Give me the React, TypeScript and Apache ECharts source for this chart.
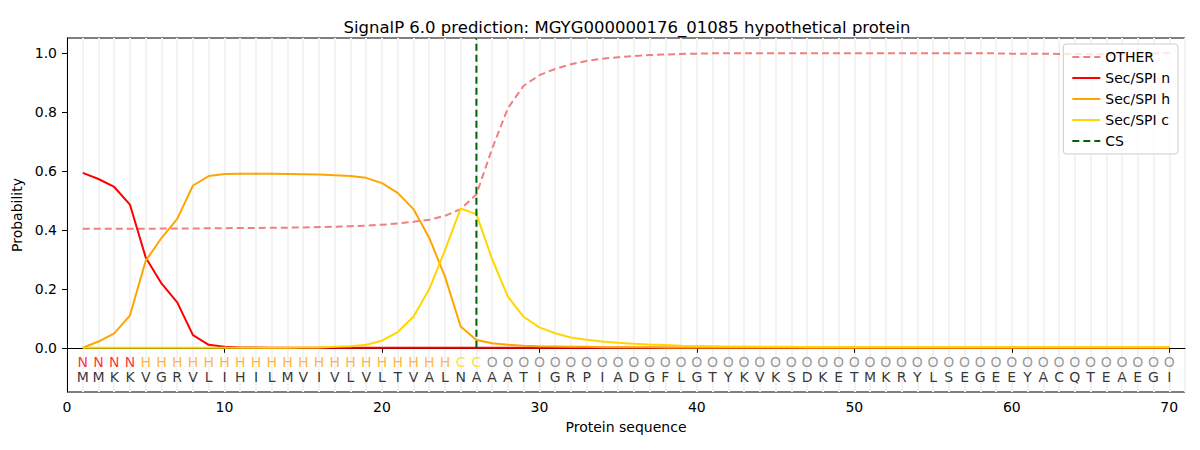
import React, { useEffect, useRef } from "react";
import * as echarts from "echarts";

const TITLE = "SignalP 6.0 prediction: MGYG000000176_01085 hypothetical protein";
const SEQUENCE = "MMKKVGRVLIHILMVIVLVLTVALNAAATIGRPIADGFLGTYKVKSDKETMKRYLSEGEEYACQTEAEGI".split("");
const REGIONS = ("NNNN" + "H".repeat(20) + "CC" + "O".repeat(44)).split("");
const CS_POS = 26;

const OTHER = [
  0.403, 0.403, 0.403, 0.403, 0.403, 0.404, 0.404, 0.404, 0.405, 0.405,
  0.406, 0.406, 0.407, 0.407, 0.408, 0.409, 0.410, 0.412, 0.414, 0.417,
  0.421, 0.427, 0.434, 0.447, 0.470, 0.520, 0.675, 0.812, 0.888, 0.924,
  0.945, 0.961, 0.972, 0.980, 0.985, 0.989, 0.992, 0.994, 0.996, 0.997,
  0.998, 0.998, 0.998, 0.998, 0.998, 0.998, 0.998, 0.998, 0.998, 0.998,
  0.998, 0.998, 0.998, 0.998, 0.998, 0.998, 0.998, 0.998, 0.998, 0.997,
  0.997, 0.997, 0.996, 0.996, 0.995, 0.995, 0.996, 0.997, 0.998, 0.999,
];
const SEC_N = [
  0.593, 0.572, 0.545, 0.485, 0.306, 0.218, 0.154, 0.043, 0.010, 0.003,
  0.001, 0.001, 0, 0, 0, 0, 0, 0, 0, 0,
  0, 0, 0, 0, 0, 0, 0, 0, 0, 0,
  0, 0, 0, 0, 0, 0, 0, 0, 0, 0,
  0, 0, 0, 0, 0, 0, 0, 0, 0, 0,
  0, 0, 0, 0, 0, 0, 0, 0, 0, 0,
  0, 0, 0, 0, 0, 0, 0, 0, 0, 0,
];
const SEC_H = [
  0.000, 0.021, 0.049, 0.110, 0.295, 0.372, 0.437, 0.550, 0.582, 0.589,
  0.590, 0.590, 0.590, 0.589, 0.588, 0.587, 0.585, 0.582, 0.576, 0.558,
  0.525, 0.470, 0.373, 0.242, 0.072, 0.026, 0.015, 0.010, 0.007, 0.005,
  0.004, 0.003, 0.003, 0.002, 0.002, 0.002, 0.002, 0.001, 0.001, 0.001,
  0.001, 0.001, 0.001, 0.001, 0.001, 0.001, 0.001, 0.001, 0.001, 0.001,
  0.001, 0.001, 0.001, 0.001, 0.001, 0.001, 0.001, 0.001, 0.001, 0.001,
  0.001, 0.001, 0.001, 0.001, 0.001, 0.001, 0.001, 0.001, 0.001, 0.001,
];
const SEC_C = [
  0, 0, 0, 0, 0, 0, 0, 0, 0, 0,
  0, 0, 0, 0, 0.001, 0.001, 0.003, 0.005, 0.010, 0.024,
  0.053, 0.105, 0.198, 0.330, 0.472, 0.453, 0.300, 0.173, 0.105, 0.069,
  0.049, 0.035, 0.027, 0.021, 0.017, 0.0135, 0.011, 0.009, 0.007, 0.006,
  0.005, 0.004, 0.004, 0.003, 0.003, 0.003, 0.002, 0.002, 0.002, 0.002,
  0.002, 0.002, 0.002, 0.002, 0.002, 0.002, 0.002, 0.002, 0.002, 0.002,
  0.002, 0.002, 0.002, 0.002, 0.002, 0.002, 0.002, 0.002, 0.002, 0.002,
];
const X_TICKS = [0, 10, 20, 30, 40, 50, 60, 70];
const Y_TICKS = [0, 0.2, 0.4, 0.6, 0.8, 1.0];

const REGION_COLORS: Record<string, string> = {
  N: "#ff0000",
  H: "#ffa500",
  C: "#ffd700",
  O: "#808080",
};

const FONT = "DejaVu Sans";

export default function App() {
  const ref = useRef<HTMLDivElement>(null);
  useEffect(() => {
    document.body.style.margin = "0";
    const chart = echarts.init(ref.current!, undefined, { renderer: "svg" });
    const pts = (arr: number[]) => arr.map((v, i) => [i + 1, v]);
    const lineSeries = (name: string, data: number[], color: string, dashed: boolean) => ({
      name,
      type: "line",
      data: pts(data),
      symbol: "none",
      lineStyle: { color, width: 2, type: dashed ? [7, 4] : "solid" },
      itemStyle: { color },
    });
    chart.setOption({
      animation: false,
      textStyle: { fontFamily: FONT },
      title: {
        text: TITLE,
        left: 622,
        textAlign: "center",
        top: 14,
        textStyle: { fontFamily: FONT, fontSize: 16.5, fontWeight: "normal", color: "#000" },
      },
      grid: {
        left: 67,
        right: 15,
        top: 38,
        bottom: 58,
        show: true,
        borderColor: "#000",
        borderWidth: 1,
        backgroundColor: "transparent",
      },
      legend: {
        orient: "vertical",
        right: 22,
        top: 44,
        itemWidth: 28,
        itemHeight: 14,
        itemGap: 7,
        padding: [6, 8, 6, 8],
        borderColor: "#cccccc",
        borderWidth: 1,
        borderRadius: 3,
        backgroundColor: "rgba(255,255,255,0.8)",
        itemStyle: { opacity: 0 },
        textStyle: { fontFamily: FONT, fontSize: 14, color: "#000" },
        data: ["OTHER", "Sec/SPI n", "Sec/SPI h", "Sec/SPI c", "CS"],
      },
      xAxis: [
        {
          type: "value",
          min: 0,
          max: 71,
          name: "Protein sequence",
          nameLocation: "middle",
          nameGap: 28,
          nameTextStyle: { fontFamily: FONT, fontSize: 14, color: "#000" },
          axisLine: { lineStyle: { color: "#000" } },
          axisTick: { show: true, length: 5, lineStyle: { color: "#000" }, customValues: X_TICKS },
          axisLabel: { fontFamily: FONT, fontSize: 14, color: "#000", margin: 8, customValues: X_TICKS },
          splitLine: { show: false },
        },
        {
          type: "value",
          min: 0,
          max: 71,
          interval: 1,
          position: "top",
          axisLine: { show: false },
          axisTick: { show: false },
          axisLabel: { show: false },
          splitLine: { show: true, lineStyle: { color: "#f3f3f3", width: 2 } },
        },
      ],
      yAxis: {
        type: "value",
        min: -0.15,
        max: 1.05,
        name: "Probability",
        nameLocation: "middle",
        nameGap: 37,
        nameTextStyle: { fontFamily: FONT, fontSize: 14, color: "#000" },
        axisLine: { show: true, lineStyle: { color: "#000" } },
        axisTick: { show: true, length: 5, lineStyle: { color: "#000" }, customValues: Y_TICKS },
        axisLabel: {
          fontFamily: FONT,
          fontSize: 14,
          color: "#000",
          margin: 10,
          customValues: Y_TICKS,
          formatter: (v: number) => v.toFixed(1),
        },
        splitLine: { show: false },
      },
      series: [
        lineSeries("OTHER", OTHER, "#f08080", true),
        lineSeries("Sec/SPI n", SEC_N, "#ff0000", false),
        lineSeries("Sec/SPI h", SEC_H, "#ffa500", false),
        lineSeries("Sec/SPI c", SEC_C, "#ffd700", false),
        {
          name: "CS",
          type: "line",
          data: [
            [CS_POS, 0],
            [CS_POS, 1.05],
          ],
          symbol: "none",
          lineStyle: { color: "#006400", width: 2, type: [7, 4] },
          itemStyle: { color: "#006400" },
        },
        {
          type: "scatter",
          symbolSize: 0,
          silent: true,
          itemStyle: { color: "rgba(0,0,0,0)" },
          data: REGIONS.map((r, i) => ({
            value: [i + 1, -0.047],
            name: r,
            label: { color: REGION_COLORS[r] },
          })),
          label: {
            show: true,
            position: "inside",
            formatter: (p: any) => p.name,
            fontFamily: FONT,
            fontSize: 14,
          },
        },
        {
          type: "scatter",
          symbolSize: 0,
          silent: true,
          itemStyle: { color: "rgba(0,0,0,0)" },
          data: SEQUENCE.map((s, i) => ({ value: [i + 1, -0.1], name: s })),
          label: {
            show: true,
            position: "inside",
            formatter: (p: any) => p.name,
            fontFamily: FONT,
            fontSize: 14,
            color: "#000",
          },
        },
      ],
    });
    return () => chart.dispose();
  }, []);
  return (
    <div
      ref={ref}
      style={{ position: "absolute", left: 0, top: 0, width: 1200, height: 450, background: "#fff" }}
    />
  );
}
